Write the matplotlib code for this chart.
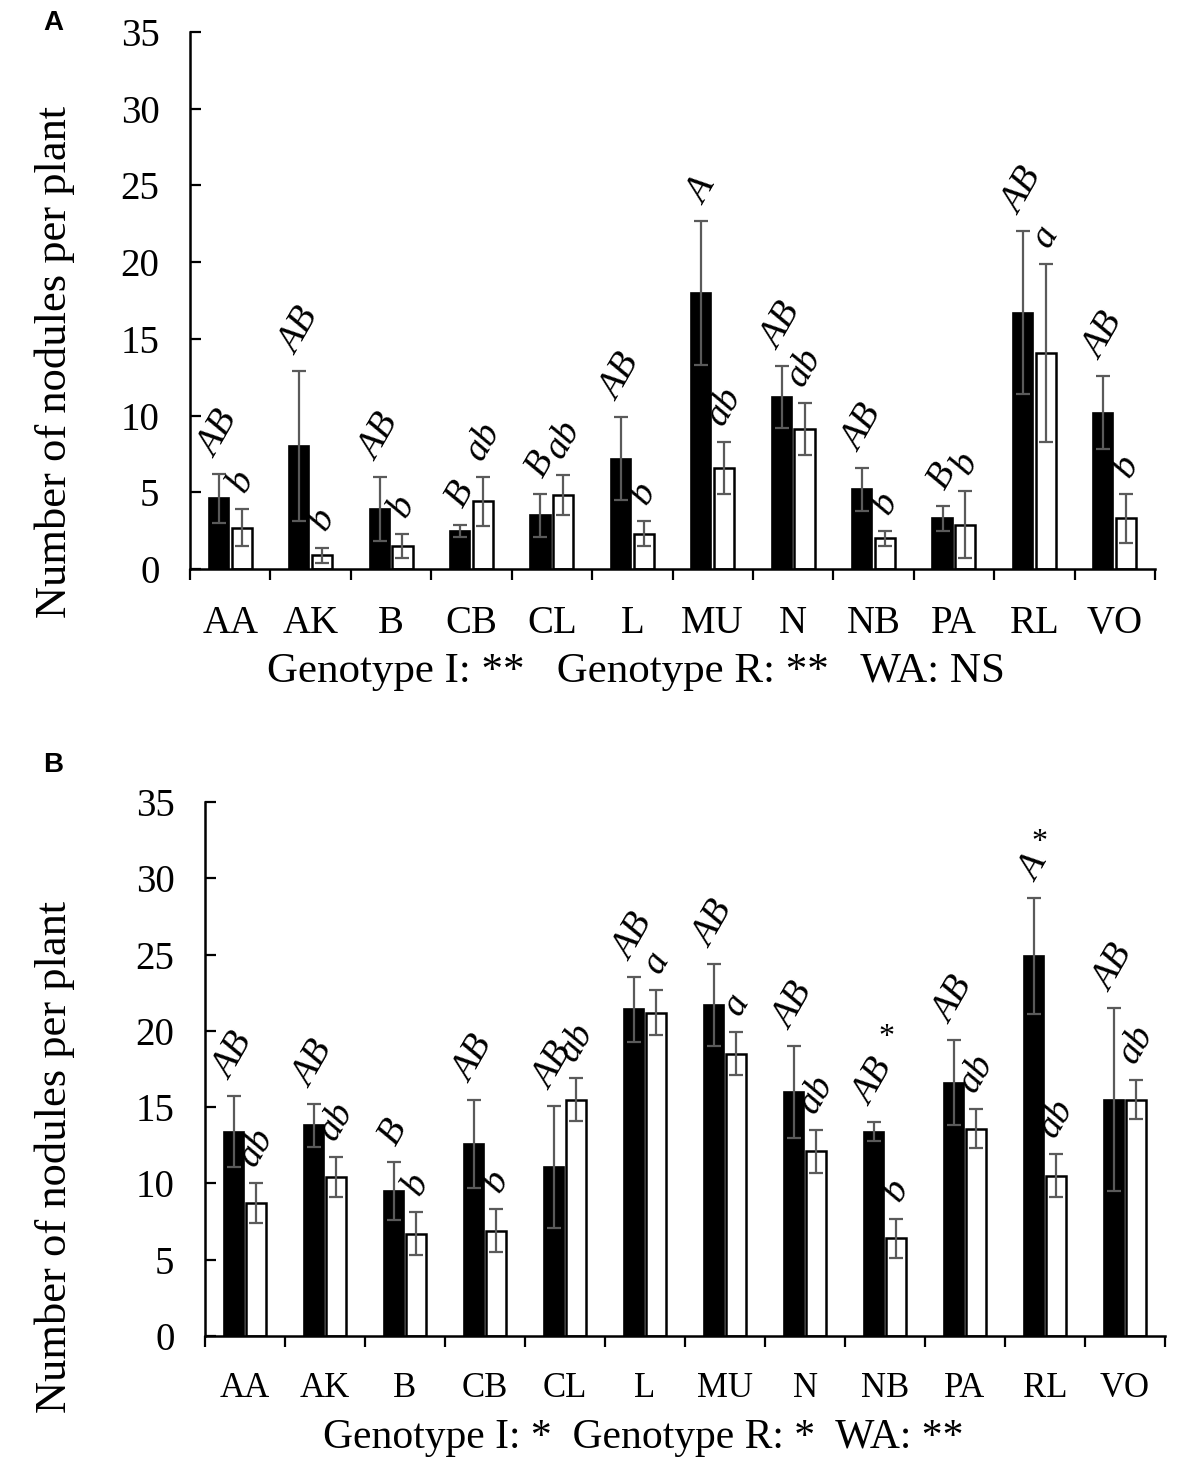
import matplotlib
matplotlib.use("Agg")
import matplotlib.pyplot as plt
import numpy as np

categories = ["AA", "AK", "B", "CB", "CL", "L", "MU", "N", "NB", "PA", "RL", "VO"]

# Panel A
a_black = [4.6, 8.0, 3.9, 2.5, 3.5, 7.2, 18.0, 11.2, 5.2, 3.3, 16.7, 10.2]
a_black_err = [1.6, 4.9, 2.1, 0.4, 1.4, 2.7, 4.7, 2.0, 1.4, 0.8, 5.3, 2.4]
a_white = [2.7, 0.9, 1.5, 4.4, 4.8, 2.3, 6.6, 9.1, 2.0, 2.9, 14.1, 3.3]
a_white_err = [1.2, 0.5, 0.8, 1.6, 1.3, 0.8, 1.7, 1.7, 0.5, 2.2, 5.8, 1.6]
a_black_lbl = ["AB", "AB", "AB", "B", "B", "AB", "A", "AB", "AB", "B", "AB", "AB"]
a_white_lbl = ["b", "b", "b", "ab", "ab", "b", "ab", "ab", "b", "b", "a", "b"]
a_stats = "Genotype I: **   Genotype R: **   WA: NS"

# Panel B
b_black = [13.4, 13.8, 9.5, 12.6, 11.1, 21.4, 21.7, 16.0, 13.4, 16.6, 24.9, 15.5]
b_black_err = [2.3, 1.4, 1.9, 2.9, 4.0, 2.1, 2.7, 3.0, 0.6, 2.8, 3.8, 6.0]
b_white = [8.7, 10.4, 6.7, 6.9, 15.5, 21.2, 18.5, 12.1, 6.4, 13.6, 10.5, 15.5]
b_white_err = [1.3, 1.3, 1.4, 1.4, 1.4, 1.5, 1.4, 1.4, 1.3, 1.3, 1.4, 1.3]
b_black_lbl = ["AB", "AB", "B", "AB", "AB", "AB", "AB", "AB", "AB", "AB", "A", "AB"]
b_white_lbl = ["ab", "ab", "b", "b", "ab", "a", "a", "ab", "b", "ab", "ab", "ab"]
b_star = ["", "", "", "", "", "", "", "", "*", "", "*", ""]
b_stats = "Genotype I: *  Genotype R: *  WA: **"

SERIF = "Liberation Serif"
SANS = "Liberation Sans"
ERRC = "#5a5a5a"

fig = plt.figure(figsize=(11.81, 14.67), dpi=100)
axA = fig.add_axes([190/1181, 1-569/1467, (1155-190)/1181, (569-32)/1467])
axB = fig.add_axes([205/1181, 1-1336/1467, (1165-205)/1181, (1336-802)/1467])

W = 0.25
OFF = 0.142

def draw(ax, black, berr, white, werr, blbl, wlbl, xfs, stars=None):
    x = np.arange(len(categories))
    ax.bar(x - OFF, black, W, color="black", edgecolor="black", linewidth=1.2, zorder=2)
    ax.bar(x + OFF, white, W, color="white", edgecolor="black", linewidth=1.8, zorder=2)
    ax.errorbar(x - OFF, black, yerr=berr, fmt="none", ecolor=ERRC, elinewidth=1.6,
                capsize=5, capthick=1.6, zorder=3)
    ax.errorbar(x + OFF, white, yerr=werr, fmt="none", ecolor=ERRC, elinewidth=1.6,
                capsize=5, capthick=1.6, zorder=3)
    for i in range(len(categories)):
        ax.annotate(blbl[i], (x[i] - OFF, black[i] + berr[i]), xytext=(0, 8),
                    textcoords="offset points", rotation=60, ha="center", va="bottom",
                    fontsize=27, fontstyle="italic", family=SERIF, zorder=4)
        ax.annotate(wlbl[i], (x[i] + OFF, white[i] + werr[i]), xytext=(0, 8),
                    textcoords="offset points", rotation=60, ha="center", va="bottom",
                    fontsize=27, fontstyle="italic", family=SERIF, zorder=4)
        if stars and stars[i]:
            n = len(blbl[i])
            ax.annotate(stars[i], (x[i] - OFF, black[i] + berr[i]),
                        xytext=(4 + 5 * (n - 1), 40 + 21 * (n - 1)), textcoords="offset points",
                        ha="center", va="center", fontsize=23, family=SERIF, zorder=4)
    ax.set_xlim(-0.5, len(categories) - 0.5)
    ax.set_ylim(0, 35)
    ax.set_yticks(np.arange(0, 36, 5))
    ax.set_xticks(x)
    ax.set_xticklabels(categories, family=SERIF, fontsize=xfs)
    ax.set_xticks(np.arange(-0.5, len(categories), 1.0), minor=True)
    ax.tick_params(axis="x", which="major", length=0, pad=26)
    ax.tick_params(axis="x", which="minor", direction="out", length=8, width=1.6)
    ax.tick_params(axis="y", direction="in", length=8, width=1.6, pad=22, labelsize=28)
    for lab in ax.get_yticklabels():
        lab.set_family(SERIF)
    for s in ["top", "right"]:
        ax.spines[s].set_visible(False)
    for s in ["left", "bottom"]:
        ax.spines[s].set_linewidth(1.8)

draw(axA, a_black, a_black_err, a_white, a_white_err, a_black_lbl, a_white_lbl, 28)
draw(axB, b_black, b_black_err, b_white, b_white_err, b_black_lbl, b_white_lbl, 25, b_star)

fig.text(55/1181, 1-362/1467, "Number of nodules per plant", rotation=90, ha="center",
         va="center", family=SERIF, fontsize=32)
fig.text(55/1181, 1-1157/1467, "Number of nodules per plant", rotation=90, ha="center",
         va="center", family=SERIF, fontsize=32)
fig.text(636/1181, 1-682/1467, a_stats, ha="center", va="baseline", family=SERIF, fontsize=31)
fig.text(643/1181, 1-1448/1467, b_stats, ha="center", va="baseline", family=SERIF, fontsize=30)
fig.text(43/1181, 1-30/1467, "A", ha="left", va="baseline", family=SANS, fontweight="bold", fontsize=20)
fig.text(43/1181, 1-772/1467, "B", ha="left", va="baseline", family=SANS, fontweight="bold", fontsize=20)

fig.savefig("out.png", dpi=100)
